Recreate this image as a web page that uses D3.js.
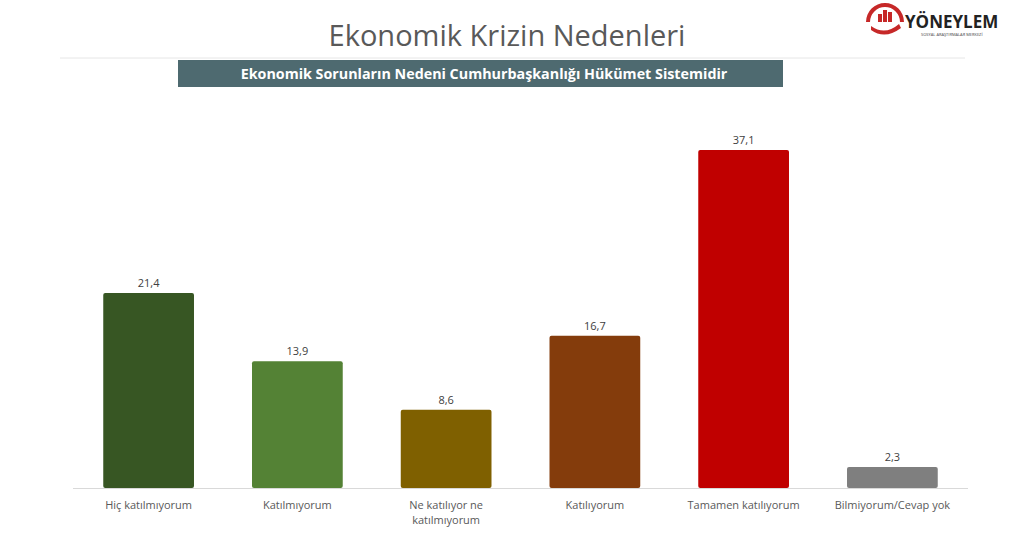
<!DOCTYPE html>
<html>
<head>
<meta charset="utf-8">
<script src="https://cdn.jsdelivr.net/npm/d3@7"></script>
<style>
  body { margin: 0; background: #fff; }
  text { font-family: "Open Sans", "Noto Sans", sans-serif; }
</style>
</head>
<body>
<script>
var categories = ['Hiç katılmıyorum', 'Katılmıyorum', 'Ne katılıyor ne|katılmıyorum', 'Katılıyorum', 'Tamamen katılıyorum', 'Bilmiyorum/Cevap yok'];
var values = [21.4, 13.9, 8.6, 16.7, 37.1, 2.3];
var colors = ['#375623', '#548235', '#7f6000', '#843c0c', '#c00000', '#7f7f7f'];

var width = 1020, height = 539;
var svg = d3.select('body').append('svg')
    .attr('width', width)
    .attr('height', height);

// Title
svg.append('text')
    .attr('x', 507).attr('y', 46)
    .attr('text-anchor', 'middle')
    .style('font-size', '29px')
    .style('fill', '#595959')
    .text('Ekonomik Krizin Nedenleri');

svg.append('line')
    .attr('x1', 60).attr('x2', 965)
    .attr('y1', 58).attr('y2', 58)
    .style('stroke', '#e6e6e6');

// Subtitle band
svg.append('rect')
    .attr('x', 178).attr('y', 60)
    .attr('width', 605).attr('height', 27)
    .style('fill', '#4e6a70');
svg.append('text')
    .attr('x', 484).attr('y', 78.5)
    .attr('text-anchor', 'middle')
    .style('font-size', '14.3px')
    .style('font-weight', 'bold')
    .style('fill', '#fff')
    .text('Ekonomik Sorunların Nedeni Cumhurbaşkanlığı Hükümet Sistemidir');

// Logo
var logo = svg.append('g').attr('transform', 'translate(885,22)');
logo.append('path')
    .attr('d', d3.arc()({innerRadius: 15, outerRadius: 19, startAngle: -Math.PI / 2, endAngle: Math.PI / 2}))
    .style('fill', '#c62828');
[[-7, 8], [-2, 12], [3, 10]].forEach(function(b) {
  logo.append('rect').attr('x', b[0]).attr('y', -b[1]).attr('width', 4).attr('height', b[1]).style('fill', '#c62828');
});
logo.append('path')
    .attr('d', 'M-14,4 Q0,14 14,2 L16,6 Q0,18 -14,8 Z')
    .style('fill', '#c62828');
svg.append('text')
    .attr('x', 905).attr('y', 28)
    .style('font-size', '17px').style('font-weight', 'bold')
    .style('fill', '#222')
    .text('YÖNEYLEM');
svg.append('text')
    .attr('x', 921).attr('y', 36)
    .style('font-size', '4px')
    .style('fill', '#444')
    .text('SOSYAL ARAŞTIRMALAR MERKEZİ');

// Chart
var x = d3.scaleBand()
    .domain(categories)
    .range([73.5, 967.5])
    .paddingInner(0.39)
    .paddingOuter(0.2);

var y = d3.scaleLinear()
    .domain([0, 37.1])
    .range([488, 150]);

svg.append('line')
    .attr('x1', 73).attr('x2', 968)
    .attr('y1', 488.5).attr('y2', 488.5)
    .style('stroke', '#d9d9d9');

svg.selectAll('rect.bar')
    .data(values)
  .enter().append('rect')
    .attr('class', 'bar')
    .attr('x', function(d, i) { return x(categories[i]); })
    .attr('y', function(d) { return y(d); })
    .attr('width', x.bandwidth())
    .attr('height', function(d) { return y(0) - y(d); })
    .attr('rx', 2)
    .style('fill', function(d, i) { return colors[i]; });

svg.selectAll('text.value')
    .data(values)
  .enter().append('text')
    .attr('class', 'value')
    .attr('x', function(d, i) { return x(categories[i]) + x.bandwidth() / 2; })
    .attr('y', function(d) { return y(d) - 6; })
    .attr('text-anchor', 'middle')
    .style('font-size', '11px')
    .style('fill', '#404040')
    .text(function(d) { return String(d).replace('.', ','); });

svg.selectAll('text.cat')
    .data(categories)
  .enter().append('text')
    .attr('class', 'cat')
    .attr('x', function(d) { return x(d) + x.bandwidth() / 2; })
    .attr('y', 509)
    .attr('text-anchor', 'middle')
    .style('font-size', '11px')
    .style('fill', '#595959')
    .each(function(d) {
      var self = d3.select(this);
      d.split('|').forEach(function(line, i) {
        self.append('tspan')
          .attr('x', self.attr('x'))
          .attr('dy', i ? 15 : 0)
          .text(line);
      });
    });
</script>
</body>
</html>
